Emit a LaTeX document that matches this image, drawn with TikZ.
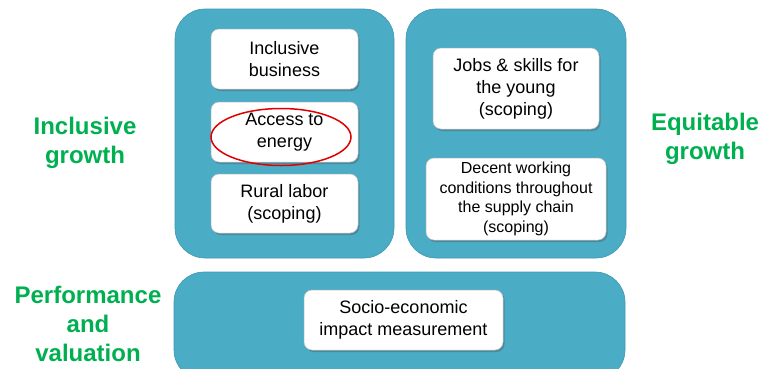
\documentclass[tikz,border=0pt]{standalone}
\usepackage{fontspec}
\setmainfont{Liberation Sans}
\usepackage{xcolor}
\usepackage{tikz}
\usetikzlibrary{positioning, shapes.geometric, shadows}
\definecolor{panelteal}{HTML}{4BACC6}
\definecolor{paneledge}{HTML}{3F97B0}
\definecolor{pillargreen}{HTML}{00B050}
\definecolor{ringred}{HTML}{E00000}

\begin{document}
\begin{tikzpicture}[
    x=1pt, y=-1pt,
    panel/.style={fill=panelteal, draw=paneledge, line width=0.6pt, rounded corners=30pt, inner sep=0pt},
    item/.style={fill=white, draw=black!25, line width=0.5pt, rounded corners=8pt, align=center, inner sep=2pt,
      font=\fontsize{18}{22}\selectfont,
      drop shadow={shadow xshift=1.5pt, shadow yshift=-2pt, opacity=0.35, fill=black!70}},
    small/.style={font=\fontsize{16}{19.5}\selectfont},
    pillar/.style={text=pillargreen, font=\fontsize{24}{29}\selectfont\bfseries, align=center},
    ring/.style={ellipse, draw=ringred, line width=1.5pt, inner sep=0pt}
  ]
    \useasboundingbox (0,0) rectangle (771,368);
    \clip (0,0) rectangle (771,368);

    % pillars
    \node[panel, minimum width=219pt, minimum height=249pt] (left)  at (284.5,133.5) {};
    \node[panel, minimum width=220pt, minimum height=249pt] (right) at (516,133.5) {};
    \node[panel, minimum width=451pt, minimum height=108pt] (base)  at (399.5,326) {};

    % topics
    \node[item, minimum width=147pt, minimum height=60pt] (business) at (284.5,59) {Inclusive\\business};
    \node[item, minimum width=147pt, minimum height=60pt] (energy)   at (284.5,132) {Access to\\energy};
    \node[item, minimum width=147pt, minimum height=59pt] (rural)    at (284.5,203.5) {Rural labor\\(scoping)};
    \node[item, minimum width=166pt, minimum height=81pt] (jobs)     at (516,88.5) {Jobs \& skills for\\the young\\(scoping)};
    \node[item, small, minimum width=180pt, minimum height=82pt] (decent) at (516,199) {Decent working\\conditions throughout\\the supply chain\\(scoping)};
    \node[item, minimum width=199pt, minimum height=60pt] (impact)   at (403.5,320) {Socio-economic\\impact measurement};

    \node[ring, minimum width=140pt, minimum height=57pt] (mark) at (281,137) {};

    % headings
    \node[pillar] (inclusive)   at (85,143)  {Inclusive\\growth};
    \node[pillar] (equitable)   at (705,139) {Equitable\\growth};
    \node[pillar] (performance) at (88,324)  {Performance\\and\\valuation};
  \end{tikzpicture}
\end{document}
